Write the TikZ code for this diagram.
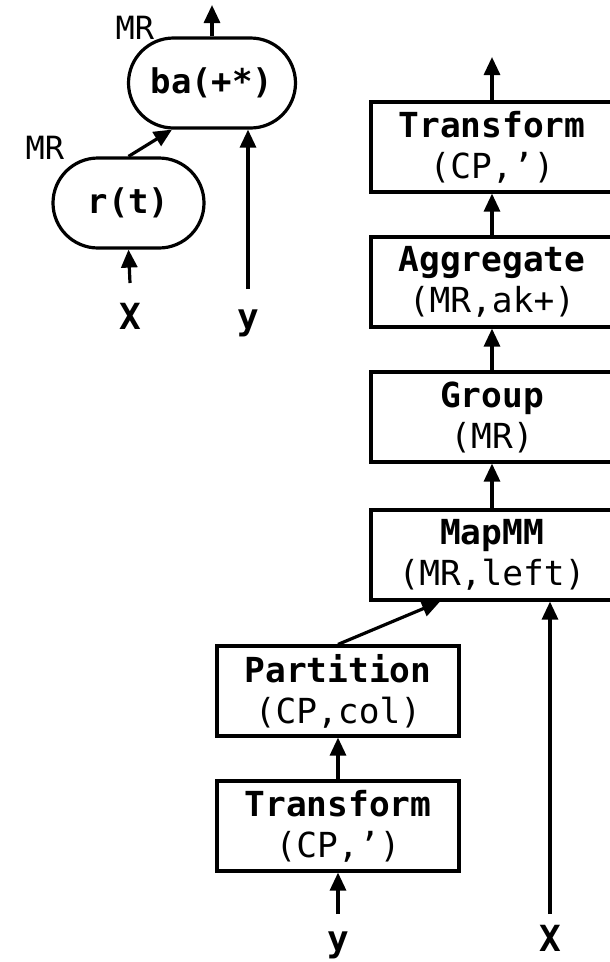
\documentclass[tikz,border=0pt]{standalone}
\usepackage{fontspec}
\setmonofont{DejaVu Sans Mono}
\usetikzlibrary{arrows.meta,calc}
\begin{document}
\begin{tikzpicture}[x=1pt,y=-1pt,
  opbox/.style={draw, line width=3.2pt, minimum width=242pt, minimum height=90pt,
    inner sep=0pt, align=center, font=\ttfamily\fontsize{34.5}{41}\selectfont},
  oval/.style={draw, line width=3.2pt, rounded corners=45pt, minimum height=90pt,
    inner sep=0pt, font=\ttfamily\bfseries\fontsize{34}{40}\selectfont},
  execlabel/.style={font=\ttfamily\fontsize{32}{38}\selectfont, inner sep=0pt},
  varlabel/.style={font=\ttfamily\bfseries\fontsize{36}{43}\selectfont, inner sep=0pt, anchor=base},
  flow/.style={line width=3.2pt, -{Triangle[length=18pt,width=16pt]}}
]
\useasboundingbox (0,0) rectangle (610,962);

% ---- fused operator plan (left) ----
\node[oval, minimum width=167pt] (ba) at (212,83) {ba(+*)};
\node[oval, minimum width=151pt] (rt) at (128.5,203) {r(t)};
\node[execlabel] (mr1) at (135,28) {MR};
\node[execlabel] (mr2) at (45,148) {MR};
\node[varlabel] (x1) at (130,329) {X};
\node[varlabel] (y1) at (248,329) {y};
\coordinate (baout) at (212,5);
\coordinate (x1in) at (130,283);
\coordinate (y1in) at (248,289);

\draw[flow] (ba.north) -- (baout);
\draw[flow] (rt.north) -- ($(ba.south)+(-40,0)$);
\draw[flow] (x1in) -- (rt.south);
\draw[flow] (y1in) -- ($(ba.south)+(36,0)$);

% ---- runtime plan (right) ----
\node[opbox] (tr2) at (492,147) {{\bfseries Transform}\\(CP,’)};
\node[opbox] (ag) at (492,282) {{\bfseries Aggregate}\\(MR,ak+)};
\node[opbox] (gr) at (492,417) {{\bfseries Group}\\(MR)};
\node[opbox] (mm) at (492,555) {{\bfseries MapMM}\\(MR,left)};
\node[opbox] (pa) at (338,691) {{\bfseries Partition}\\(CP,col)};
\node[opbox] (tr1) at (338,826) {{\bfseries Transform}\\(CP,’)};
\node[varlabel] (y2) at (338,951) {y};
\node[varlabel] (x2) at (550,951) {X};
\coordinate (trout) at (492,57);
\coordinate (y2in) at (338,914);
\coordinate (x2in) at (550,914);

\draw[flow] (tr2.north) -- (trout);
\draw[flow] (ag.north) -- (tr2.south);
\draw[flow] (gr.north) -- (ag.south);
\draw[flow] (mm.north) -- (gr.south);
\draw[flow] (pa.north) -- ($(mm.south)+(-52,0)$);
\draw[flow] (tr1.north) -- (pa.south);
\draw[flow] (y2in) -- (tr1.south);
\draw[flow] (x2in) -- ($(mm.south)+(58,0)$);
\end{tikzpicture}
\end{document}
